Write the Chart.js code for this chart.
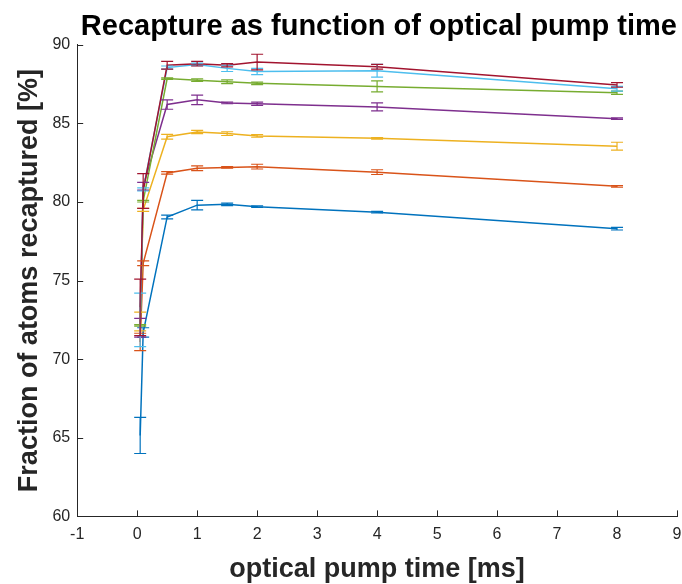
<!DOCTYPE html>
<html>
<head>
<meta charset="utf-8">
<script src="https://cdn.jsdelivr.net/npm/chart.js@4.4.0/dist/chart.umd.min.js"></script>
<style>
  html, body { margin: 0; padding: 0; background: #fff; }
  #wrap { width: 682px; height: 584px; }
</style>
</head>
<body>
<div id="wrap"><canvas id="recaptureChart" width="682" height="584"></canvas></div>
<script>
// pump times [ms]
var pumpTimes = [0.05, 0.1, 0.5, 1, 1.5, 2, 4, 8];

// recaptured fraction [%] and error bar half-widths, one pair per run
var recapBlue   = [65.15, 71.7, 79.05, 79.8, 79.85, 79.7, 79.35, 78.3];
var errBlue     = [1.15, 0.3, 0.12, 0.3, 0.08, 0.05, 0.05, 0.08];
var recapOrange = [71.1, 76.1, 81.85, 82.15, 82.2, 82.25, 81.9, 81.0];
var errOrange   = [0.55, 0.15, 0.08, 0.15, 0.05, 0.15, 0.15, 0.05];
var recapYellow = [72.4, 79.5, 84.15, 84.45, 84.35, 84.2, 84.05, 83.55];
var errYellow   = [0.6, 0.1, 0.15, 0.1, 0.12, 0.08, 0.05, 0.25];
var recapPurple = [72.0, 81.0, 86.2, 86.5, 86.3, 86.25, 86.05, 85.3];
var errPurple   = [0.6, 0.25, 0.3, 0.3, 0.05, 0.1, 0.25, 0.05];
var recapGreen  = [72.15, 80.05, 87.85, 87.75, 87.65, 87.55, 87.35, 86.95];
var errGreen    = [0.05, 0.05, 0.05, 0.08, 0.12, 0.08, 0.35, 0.1];
var recapCyan   = [72.5, 80.8, 88.55, 88.75, 88.5, 88.3, 88.35, 87.2];
var errCyan     = [1.7, 0.1, 0.1, 0.08, 0.2, 0.2, 0.4, 0.15];
var recapRed    = [73.3, 80.7, 88.7, 88.8, 88.7, 88.9, 88.6, 87.45];
var errRed      = [1.8, 1.1, 0.25, 0.15, 0.1, 0.5, 0.15, 0.15];

var xTicks = [-1, 0, 1, 2, 3, 4, 5, 6, 7, 8, 9];
var yTicks = [60, 65, 70, 75, 80, 85, 90];

var runs = [
  [recapBlue, errBlue, '#0072BD'],
  [recapOrange, errOrange, '#D95319'],
  [recapYellow, errYellow, '#EDB120'],
  [recapPurple, errPurple, '#7E2F8E'],
  [recapGreen, errGreen, '#77AC30'],
  [recapCyan, errCyan, '#4DBEEE'],
  [recapRed, errRed, '#A2142F']
];

var datasets = runs.map(function(r, i) {
  return {
    data: pumpTimes.map(function(t, j) { return { x: t, y: r[0][j] }; }),
    errors: r[1],
    borderColor: r[2],
    backgroundColor: r[2],
    borderWidth: 1.5,
    pointRadius: 0,
    fill: false,
    tension: 0,
    order: runs.length - i
  };
});

// error bars with caps, placed through the chart scales
var errorBars = {
  id: 'errorBars',
  afterDatasetsDraw: function(chart) {
    var ctx = chart.ctx, xs = chart.scales.x, ys = chart.scales.y;
    chart.data.datasets.forEach(function(ds) {
      ctx.save();
      ctx.strokeStyle = ds.borderColor;
      ctx.lineWidth = 1.2;
      ds.data.forEach(function(p, i) {
        var e = ds.errors[i];
        var px = xs.getPixelForValue(p.x);
        var top = ys.getPixelForValue(p.y + e);
        var bot = ys.getPixelForValue(p.y - e);
        ctx.beginPath();
        ctx.moveTo(px, top); ctx.lineTo(px, bot);
        ctx.moveTo(px - 6, top); ctx.lineTo(px + 6, top);
        ctx.moveTo(px - 6, bot); ctx.lineTo(px + 6, bot);
        ctx.stroke();
      });
      ctx.restore();
    });
  }
};

// matlab style ticks pointing into the axes
var innerTicks = {
  id: 'innerTicks',
  afterDraw: function(chart) {
    var ctx = chart.ctx, xs = chart.scales.x, ys = chart.scales.y, a = chart.chartArea;
    ctx.save();
    ctx.strokeStyle = '#262626';
    ctx.lineWidth = 1;
    ctx.beginPath();
    xTicks.forEach(function(t) {
      var px = Math.round(xs.getPixelForValue(t)) + 0.5;
      ctx.moveTo(px, a.bottom); ctx.lineTo(px, a.bottom - 6);
    });
    yTicks.forEach(function(t) {
      var py = Math.round(ys.getPixelForValue(t)) + 0.5;
      ctx.moveTo(a.left, py); ctx.lineTo(a.left + 6, py);
    });
    ctx.stroke();
    ctx.restore();
  }
};

var ctx = document.getElementById('recaptureChart').getContext('2d');
var chart = new Chart(ctx, {
  type: 'line',
  data: { datasets: datasets },
  plugins: [errorBars, innerTicks],
  options: {
    responsive: false,
    animation: false,
    layout: { padding: { left: 13, right: 5, top: 2, bottom: -2 } },
    plugins: {
      legend: { display: false },
      tooltip: { enabled: false },
      title: {
        display: true,
        text: 'Recapture as function of optical pump time',
        align: 'end',
        color: '#000',
        font: { family: 'Liberation Sans', size: 29, weight: 'bold' },
        padding: { top: 8, bottom: 0 }
      }
    },
    scales: {
      x: {
        type: 'linear',
        min: -1,
        max: 9,
        afterBuildTicks: function(s) { s.ticks = xTicks.map(function(v) { return { value: v }; }); },
        afterFit: function(s) { s.paddingRight = 0; },
        grid: { display: false, drawTicks: false },
        border: { color: '#262626', width: 1 },
        ticks: { color: '#262626', padding: 9, font: { family: 'Liberation Sans', size: 16 } },
        title: {
          display: true,
          text: 'optical pump time [ms]',
          color: '#262626',
          font: { family: 'Liberation Sans', size: 27, weight: 'bold' },
          padding: { top: 0, bottom: 0 }
        }
      },
      y: {
        min: 60,
        max: 90,
        afterBuildTicks: function(s) { s.ticks = yTicks.map(function(v) { return { value: v }; }); },
        grid: { display: false, drawTicks: false },
        border: { color: '#262626', width: 1 },
        ticks: { color: '#262626', padding: 7, font: { family: 'Liberation Sans', size: 16 } },
        title: {
          display: true,
          text: 'Fraction of atoms recaptured [%]',
          color: '#262626',
          font: { family: 'Liberation Sans', size: 27, weight: 'bold' },
          padding: { top: 0, bottom: 0 }
        }
      }
    }
  }
});
</script>
</body>
</html>
